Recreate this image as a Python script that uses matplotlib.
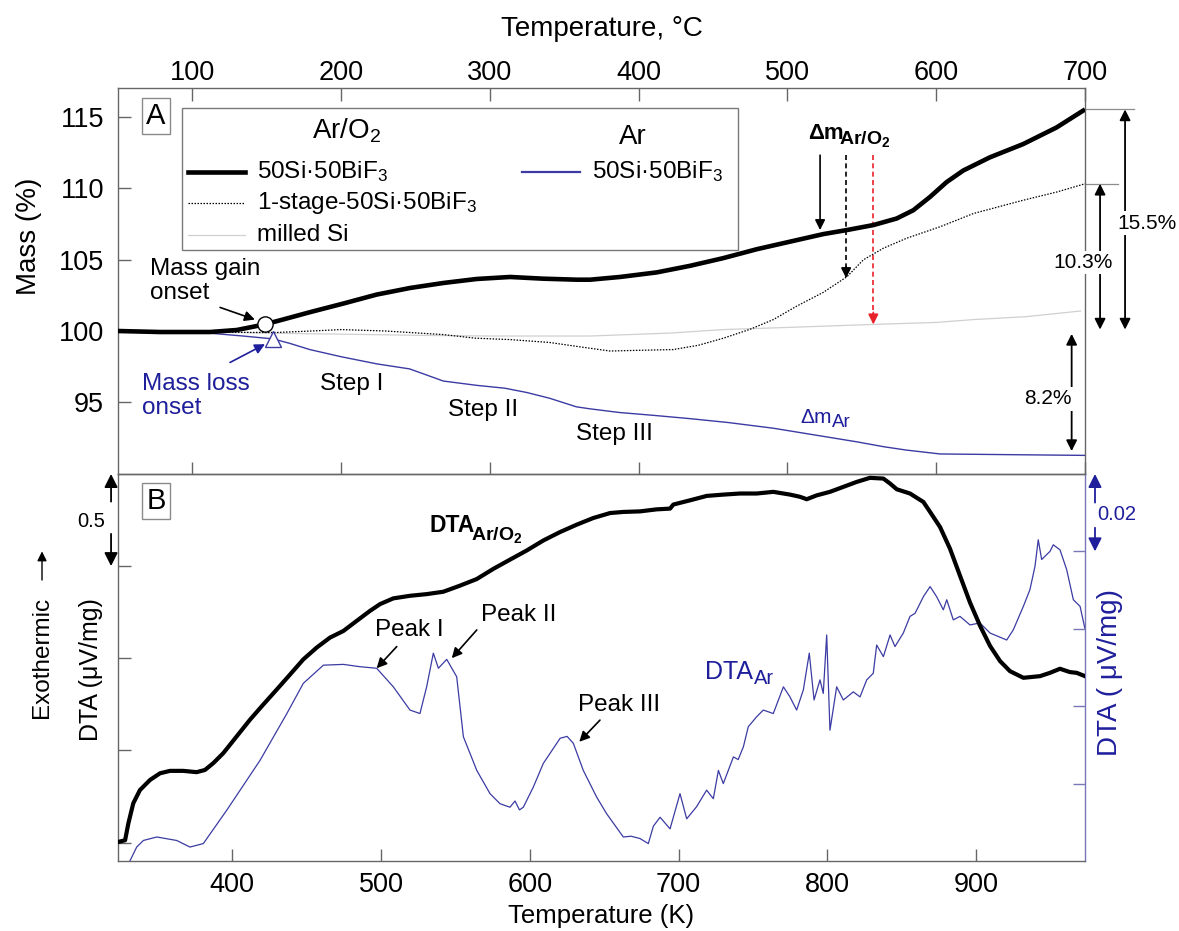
import matplotlib
matplotlib.use("Agg")
import matplotlib.pyplot as plt
from matplotlib.patches import Rectangle
from matplotlib.lines import Line2D

plt.rcParams['font.family'] = ['Liberation Sans', 'DejaVu Sans']
plt.rcParams['mathtext.fontset'] = 'custom'
plt.rcParams['mathtext.rm'] = 'Liberation Sans'
plt.rcParams['mathtext.it'] = 'Liberation Sans:italic'
plt.rcParams['mathtext.bf'] = 'Liberation Sans:bold'

# ---- TGA (panel A), temperature in deg C, mass in % ----
t_arO2 = [50, 78.2, 111.8, 129.8, 140.9, 148.8, 161.1, 179.1, 201.4, 223.9, 246.3,
          268.7, 291.1, 313.5, 335.9, 358.3, 367.3, 387.4, 412.1, 434.5, 456.9, 479.3,
          501.7, 524.1, 539.8, 557.7, 573.4, 584.6, 595.8, 607.0, 618.2, 636.1, 658.5,
          680.9, 700]
m_arO2 = [100.0, 99.93, 99.93, 100.07, 100.3, 100.47, 100.81, 101.32, 101.92, 102.55,
          103.01, 103.36, 103.64, 103.78, 103.66, 103.59, 103.59, 103.78, 104.10,
          104.56, 105.1, 105.72, 106.25, 106.78, 107.06, 107.41, 107.87, 108.45,
          109.38, 110.42, 111.23, 112.15, 113.08, 114.24, 115.5]

t_1stage = [50, 100, 140, 157, 180, 200, 230, 268.7, 290, 313.5, 340, 360, 380.7, 400,
            423, 440, 457, 474.8, 490.5, 506.2, 524, 540, 551, 564.4, 580.1, 602.5,
            625, 658.5, 680.9, 700]
m_1stage = [100.0, 99.95, 99.9, 99.9, 100.0, 100.1, 100.0, 99.75, 99.5, 99.4, 99.2,
            98.9, 98.6, 98.65, 98.7, 99.0, 99.5, 100.12, 100.8, 101.74, 102.7, 103.8,
            104.98, 105.79, 106.49, 107.29, 108.22, 109.15, 109.72, 110.3]

t_si = [50, 100, 150, 200, 250, 300, 367, 420, 457, 500, 557.7, 600, 625, 660, 697]
m_si = [100.0, 99.95, 99.85, 99.78, 99.7, 99.65, 99.65, 99.85, 100.1, 100.25, 100.46,
        100.6, 100.8, 101.0, 101.4]

t_ar = [50, 100, 134, 154, 165, 179, 200, 224, 246, 268.7, 291, 310, 324.7, 340, 358,
        367, 387, 410, 434.5, 460, 490.5, 520, 546.5, 565, 580, 602.5, 650, 700]
m_ar = [100.0, 99.95, 99.65, 99.45, 99.15, 98.7, 98.2, 97.7, 97.35, 96.5, 96.2, 96.0,
        95.7, 95.3, 94.7, 94.56, 94.3, 94.1, 93.87, 93.6, 93.2, 92.7, 92.25, 91.9,
        91.67, 91.4, 91.35, 91.3]

gain_onset = (148.8, 100.47)
loss_onset = (154.4, 99.42)
dm_total = 15.5
dm_1stage = 10.3
dm_ar = 8.2

# ---- DTA (panel B), temperature in K ----
T_dta_arO2 = [323.15, 327.9, 330.1, 333.4, 337.9, 344.7, 351.4, 358.1, 367.0, 376.0,
              381.6, 387.2, 393.9, 402.9, 411.9, 420.8, 429.8, 438.8, 447.7, 456.7,
              465.6, 474.6, 483.6, 492.5, 499.3, 508.2, 519.4, 530.6, 541.8, 553.0,
              564.3, 575.4, 586.6, 597.9, 609.0, 620.3, 631.5, 642.6, 653.9, 662.8,
              674.0, 685.2, 694.2, 696.4, 707.6, 718.9, 730.0, 741.2, 752.5, 763.6,
              774.9, 781.6, 786.1, 792.8, 801.7, 810.7, 819.7, 828.6, 837.6, 842.1,
              846.6, 855.5, 864.5, 869.0, 875.7, 882.4, 889.1, 895.8, 902.6, 909.3,
              916.0, 922.7, 931.7, 942.9, 949.6, 956.3, 963.0, 967.5, 973.1]
dta_arO2 = [0.003, 0.0125, 0.104, 0.213, 0.285, 0.34, 0.376, 0.389, 0.389, 0.382,
            0.394, 0.431, 0.485, 0.576, 0.667, 0.749, 0.83, 0.912, 0.994, 1.058,
            1.112, 1.148, 1.203, 1.257, 1.294, 1.325, 1.339, 1.348, 1.361, 1.394,
            1.43, 1.485, 1.535, 1.585, 1.639, 1.685, 1.725, 1.761, 1.788, 1.794,
            1.797, 1.808, 1.812, 1.834, 1.857, 1.881, 1.888, 1.894, 1.894, 1.903,
            1.888, 1.876, 1.863, 1.884, 1.903, 1.930, 1.957, 1.979, 1.975, 1.948,
            1.917, 1.894, 1.848, 1.794, 1.712, 1.594, 1.448, 1.303, 1.176, 1.067,
            0.985, 0.930, 0.894, 0.903, 0.921, 0.943, 0.925, 0.921, 0.903]

T_dta_ar = [330.5, 335.7, 340.2, 349.2, 362.6, 371.5, 380.5, 396.2, 418.6, 436.5, 447.7,
            461.2, 474.6, 485.8, 497, 508.2, 519.4, 526.1, 530.6, 535.1, 538.5, 544.1,
            550.8, 555.3, 564.3, 573.2, 579.9, 586.6, 590, 593, 595.6, 602.3, 609,
            620.3, 625, 629.2, 635.9, 644.9, 651.6, 662.8, 668, 674, 679.6, 683, 687.5,
            694.2, 700.9, 705.4, 712, 718.8, 723.3, 726.7, 730, 736.8, 740, 743.5,
            746.8, 752.5, 756.9, 763.6, 770.4, 774.8, 779.3, 783.8, 787.8, 791, 795,
            797.2, 799.5, 801.7, 806.2, 810.7, 817.4, 821.9, 826.4, 830.8, 833.1, 837.6,
            842.1, 845.4, 851, 855.5, 858.9, 864.5, 869, 873.4, 877.9, 880.2, 884.6,
            889.1, 895.8, 902.5, 909.3, 920.5, 924.9, 931.7, 936.1, 939.5, 941.7, 944,
            949.6, 951.8, 956.3, 960.8, 965.3, 969.8, 973]
dta_ar = [-0.0205, -0.0164, -0.0147, -0.0138, -0.0147, -0.0164, -0.0155, -0.0069,
          0.006, 0.018, 0.0259, 0.0306, 0.0308, 0.0302, 0.0298, 0.025, 0.019, 0.0181,
          0.025, 0.0337, 0.0298, 0.0321, 0.0276, 0.0121, 0.0034, -0.0026, -0.0052,
          -0.0061, -0.0045, -0.0068, -0.0061, -0.0009, 0.0052, 0.0117, 0.0122, 0.0104,
          0.0034, -0.0035, -0.0078, -0.0138, -0.0136, -0.0142, -0.0155, -0.0110,
          -0.0087, -0.0117, -0.0026, -0.0091, -0.0060, -0.0017, -0.0039, 0.0034, 0.0,
          0.0069, 0.0062, 0.0095, 0.0147, 0.0173, 0.019, 0.0181, 0.025, 0.0224, 0.019,
          0.0242, 0.0337, 0.0216, 0.0268, 0.0233, 0.0384, 0.0138, 0.025, 0.0216,
          0.0237, 0.0224, 0.0268, 0.0285, 0.0358, 0.0328, 0.0384, 0.0354, 0.0389,
          0.0432, 0.044, 0.0483, 0.0509, 0.0483, 0.0449, 0.0475, 0.0423, 0.0432, 0.041,
          0.0415, 0.0389, 0.0371, 0.0397, 0.0458, 0.0501, 0.0561, 0.063, 0.0579, 0.06,
          0.0617, 0.0604, 0.0553, 0.0475, 0.0458, 0.0402]

C_TICKS = [100, 200, 300, 400, 500, 600, 700]
K_TICKS = [400, 500, 600, 700, 800, 900]

BLUE = '#1f1f9c'
BLUE_LINE = '#3b3ba3'
SPINE = '#666666'
SI_GRAY = '#d0d0d0'
FS_TICK = 19.5
FS_NOTE = 17.5


def sub_label(ax, x, y, main, sub, size, sub_size, drop, gap=0.5, **kw):
    """Text with a large, lowered subscript placed right after it."""
    ax.annotate(main, (x, y), ha='right', va='baseline', fontsize=size, **kw)
    ax.annotate(sub, (x, y), xytext=(gap, -drop), textcoords='offset points',
                ha='left', va='baseline', fontsize=sub_size, **kw)


fig = plt.figure(figsize=(11.79, 9.31), dpi=100)
axA = fig.add_axes([0.1001, 0.4909, 0.8202, 0.4146])
axB = fig.add_axes([0.1001, 0.0752, 0.8202, 0.4157])
axB2 = axB.twinx()

for ax in (axA, axB, axB2):
    for s in ax.spines.values():
        s.set_color(SPINE)
        s.set_linewidth(1.0)

# ---------------- panel A ----------------
axA.plot(t_si, m_si, color=SI_GRAY, lw=0.9, zorder=2)
axA.plot(t_ar, m_ar, color=BLUE_LINE, lw=1.0, zorder=3)
axA.plot(t_1stage, m_1stage, color='black', lw=0.9, ls=(0, (1.2, 1.2)), zorder=3)
axA.plot(t_arO2, m_arO2, color='black', lw=3.3, zorder=4, solid_capstyle='butt')
axA.plot(*gain_onset, 'o', ms=11, mfc='white', mec='black', mew=1.0, zorder=6)
axA.plot(*loss_onset, '^', ms=12, mfc='white', mec=BLUE_LINE, mew=1.0, zorder=6)

axA.set_xlim(50, 700)
axA.set_ylim(90, 117)
axA.set_yticks([95, 100, 105, 110, 115])
axA.set_xticks(C_TICKS)
axA.tick_params(axis='both', direction='in', length=9, width=1.0, color=SPINE,
                labelsize=FS_TICK, pad=10)
axA.tick_params(axis='x', top=True, bottom=True, labeltop=True, labelbottom=False, pad=1.5)
fig.text(0.5102, 0.969, 'Temperature, °C', fontsize=20, ha='center', va='center')
axA.set_ylabel('Mass (%)', fontsize=20)
axA.yaxis.set_label_coords(-0.079, 0.617)

# panel letter
axA.text(0.0393, 0.928, 'A', transform=axA.transAxes, fontsize=21, ha='center',
         va='center', zorder=7,
         bbox=dict(boxstyle='square,pad=0.14', fc='white', ec='#8a8a8a', lw=1.0))

# legend drawn as a box with two columns
axA.add_patch(Rectangle((0.0662, 0.5803), 0.575, 0.3679, transform=axA.transAxes,
                        fc='white', ec='#7a7a7a', lw=1.0, zorder=5))
axA.text(0.2365, 0.889, 'Ar/O$_2$', transform=axA.transAxes, fontsize=20,
         ha='center', va='center', zorder=6)
axA.text(0.5326, 0.874, 'Ar', transform=axA.transAxes, fontsize=20,
         ha='center', va='center', zorder=6)
leg_rows = [
    (0.7832, dict(color='black', lw=3.3), '50Si·50BiF$_3$'),
    (0.7013, dict(color='black', lw=0.9, ls=(0, (1.2, 1.2))), '1-stage-50Si·50BiF$_3$'),
    (0.6192, dict(color=SI_GRAY, lw=0.9), 'milled Si'),
]
for y, style, label in leg_rows:
    axA.add_line(Line2D([0.0724, 0.1313], [y, y], transform=axA.transAxes, zorder=6,
                        **style))
    axA.text(0.1434, y, label, transform=axA.transAxes, fontsize=FS_NOTE,
             ha='left', va='center', zorder=6)
axA.add_line(Line2D([0.4175, 0.4778], [0.7832, 0.7832], transform=axA.transAxes,
                    color=BLUE_LINE, lw=1.6, zorder=6))
axA.text(0.4899, 0.7832, '50Si·50BiF$_3$', transform=axA.transAxes, fontsize=FS_NOTE,
         ha='left', va='center', zorder=6)

arrow_kw = dict(arrowstyle='-|>', color='black', lw=1.2, mutation_scale=15,
                shrinkA=0, shrinkB=0)

# onset labels
axA.text(71.5, 103.5, 'Mass gain\nonset', fontsize=FS_NOTE, ha='left', va='center',
         linespacing=1.1)
axA.annotate('', xy=(142, 100.8), xytext=(118.6, 101.65), arrowprops=arrow_kw)
axA.text(66, 95.44, 'Mass loss\nonset', fontsize=FS_NOTE, ha='left', va='center',
         color=BLUE, linespacing=1.1)
axA.annotate('', xy=(148.8, 99.08), xytext=(125.3, 97.8),
             arrowprops=dict(arrow_kw, color=BLUE))

for x, y, s in [(207, 96.3, 'Step I'), (295.6, 94.45, 'Step II'), (384, 92.8, 'Step III')]:
    axA.text(x, y, s, fontsize=FS_NOTE, ha='center', va='center')

# mass change markers
sub_label(axA, 537.5, 113.43, 'Δm', r'Ar/O$_\mathbf{2}$', 16, 14, 3.6, gap=-3,
          fontweight='bold')
axA.annotate('', xy=(521.9, 107.06), xytext=(521.9, 112.3), arrowprops=arrow_kw)
axA.plot([539.4, 539.4], [112.3, 104.3], color='black', lw=1.2, ls=(0, (3, 2)))
axA.annotate('', xy=(539.4, 103.7), xytext=(539.4, 104.5), arrowprops=arrow_kw)
axA.plot([557.7, 557.7], [112.3, 101.1], color='#e8222a', lw=1.2, ls=(0, (3, 2)))
axA.annotate('', xy=(557.7, 100.46), xytext=(557.7, 101.3),
             arrowprops=dict(arrow_kw, color='#e8222a'))
sub_label(axA, 529.7, 93.57, 'Δm', 'Ar', 15, 13.5, 3, color=BLUE)

# total mass change bars
dbl_kw = dict(arrowstyle='<|-|>', color='black', lw=1.3, mutation_scale=16,
              shrinkA=0, shrinkB=0)
axA.plot([700, 733], [100 + dm_total, 100 + dm_total], color='#8c8c8c', lw=0.9,
         clip_on=False)
axA.plot([700, 722], [100 + dm_1stage, 100 + dm_1stage], color='#8c8c8c', lw=0.9,
         clip_on=False)
axA.annotate('', xy=(726.9, 100.1), xytext=(726.9, 100 + dm_total),
             arrowprops=dbl_kw, annotation_clip=False)
axA.annotate('', xy=(710.1, 100.1), xytext=(710.1, 100 + dm_1stage),
             arrowprops=dbl_kw, annotation_clip=False)
axA.annotate('', xy=(691, 99.8 - dm_ar), xytext=(691, 99.8),
             arrowprops=dbl_kw, annotation_clip=False)
box = dict(boxstyle='square,pad=0.1', fc='white', ec='none')
axA.text(741.7, 107.55, f'{dm_total}%', fontsize=15, ha='center', va='center',
         bbox=box, clip_on=False, zorder=8)
axA.text(698.4, 104.77, f'{dm_1stage}%', fontsize=15, ha='center', va='center',
         bbox=box, clip_on=False, zorder=8)
axA.text(675, 95.25, f'{dm_ar}%', fontsize=15, ha='center', va='center',
         bbox=box, clip_on=False, zorder=8)

# ---------------- panel B ----------------
axB2.plot(T_dta_ar, dta_ar, color=BLUE_LINE, lw=0.9, zorder=3)
axB.plot(T_dta_arO2, dta_arO2, color='black', lw=3.0, zorder=4)
axB.set_zorder(axB2.get_zorder() + 1)
axB.patch.set_visible(False)

axB.set_xlim(323.15, 973.15)
axB.set_ylim(-0.1, 2.0)
axB2.set_ylim(-0.02, 0.08)
axB.set_xticks(K_TICKS)
axB.set_yticks([0, 0.5, 1.0, 1.5])
axB2.set_yticks([0, 0.02, 0.04, 0.06])
axB.tick_params(axis='both', direction='in', length=9, width=1.0, color=SPINE,
                labelsize=FS_TICK, labelleft=False, top=False, pad=8)
axB2.tick_params(axis='y', direction='in', length=9, width=1.0, color='#7878b8',
                 labelright=False)
axB2.spines['right'].set_color('#7878b8')
for side in ('left', 'top', 'bottom'):
    axB2.spines[side].set_visible(False)
axB.spines['right'].set_visible(False)

axB.set_xlabel('Temperature (K)', fontsize=18.5, labelpad=4)
axB.set_ylabel('DTA (μV/mg)', fontsize=18)
axB.yaxis.set_label_coords(-0.0155, 0.494)
axB2.set_ylabel('DTA ( μV/mg)', fontsize=20, color=BLUE)
axB2.yaxis.set_label_coords(1.0124, 0.486)

axB.text(0.0391, 0.930, 'B', transform=axB.transAxes, fontsize=21, ha='center',
         va='center', zorder=7,
         bbox=dict(boxstyle='square,pad=0.14', fc='white', ec='#8a8a8a', lw=1.0))

# exothermic direction and scale bars
axB.text(-0.0786, 0.527, 'Exothermic', transform=axB.transAxes, rotation=90,
         fontsize=17.5, ha='center', va='center')
axB.annotate('', xy=(-0.0786, 0.80), xytext=(-0.0786, 0.726), xycoords='axes fraction',
             arrowprops=dict(arrowstyle='-|>', color='black', lw=1.0, mutation_scale=14,
                             shrinkA=0, shrinkB=0), annotation_clip=False)
tr_left = axB.get_yaxis_transform()
scale_kw = dict(arrowstyle='-|>', color='black', lw=1.3, mutation_scale=20,
                shrinkA=0, shrinkB=0)
axB.annotate('', xy=(-0.0072, 2.0), xytext=(-0.0072, 1.85), xycoords=tr_left,
             arrowprops=scale_kw, annotation_clip=False)
axB.annotate('', xy=(-0.0072, 1.5), xytext=(-0.0072, 1.675), xycoords=tr_left,
             arrowprops=scale_kw, annotation_clip=False)
axB.text(-0.028, 1.74, '0.5', transform=tr_left, fontsize=14.5, ha='center',
         va='center')

tr_right = axB2.get_yaxis_transform()
axB2.annotate('', xy=(1.0103, 0.08), xytext=(1.0103, 0.0726), xycoords=tr_right,
              arrowprops=dict(scale_kw, color=BLUE), annotation_clip=False)
axB2.annotate('', xy=(1.0103, 0.06), xytext=(1.0103, 0.0661), xycoords=tr_right,
              arrowprops=dict(scale_kw, color=BLUE), annotation_clip=False)
axB2.text(1.0327, 0.0695, '0.02', transform=tr_right, fontsize=14.5, color=BLUE,
          ha='center', va='center')

# curve labels and peak markers
sub_label(axB, 563.1, 1.685, 'DTA', r'Ar/O$_\mathbf{2}$', 16.5, 14, 5.5, gap=-3,
          fontweight='bold')
sub_label(axB, 750.2, 0.885, 'DTA', 'Ar', 18, 14.5, 3.5, color=BLUE)
peaks = [('Peak I', (518.7, 0.0397), (510.5, 0.0354), (497, 0.0298)),
         ('Peak II', (592.7, 0.0436), (564.3, 0.0397), (547.5, 0.0324)),
         ('Peak III', (659.9, 0.0203), (647.1, 0.0164), (633.2, 0.0108))]
for label, txt_pos, start, tip in peaks:
    axB2.text(*txt_pos, label, fontsize=FS_NOTE, ha='center', va='center')
    axB2.annotate('', xy=tip, xytext=start, arrowprops=arrow_kw)

fig.savefig('out.png', dpi=100)
